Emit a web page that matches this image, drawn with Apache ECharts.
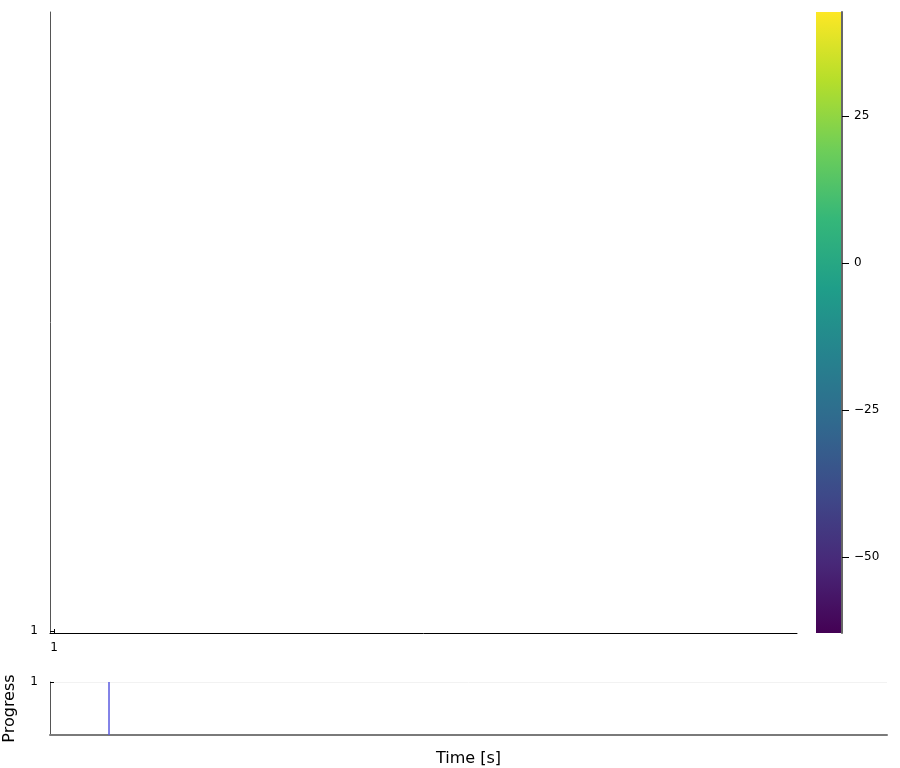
<!DOCTYPE html>
<html><head><meta charset="utf-8">
<script src="https://cdn.jsdelivr.net/npm/echarts@6/dist/echarts.min.js"></script>
<style>html,body{margin:0;padding:0;background:#fff}#c{width:900px;height:768px}</style>
</head><body><div id="c"></div>
<script>
// Data
const heatmapCells = [];            // spectrogram cells: empty in the reference
const xTicks = [1];
const yTicks = [1];
const colorTicks = [25, 0, -25, -50];
const colorMin = -62.9, colorMax = 42.7;
const progressTime = [0.0705, 0.0705];
const progressValue = [0, 1];
const progressTicks = [1];
const viridis = ['#440154','#482878','#3e4989','#31688e','#26828e','#1f9e89','#35b779','#6ece58','#b5de2b','#fde725'];

const chart = echarts.init(document.getElementById('c'));
const font = 'DejaVu Sans';
const minus = v => String(v).replace('-', '\u2212');
const gradStops = viridis.map((c, i) => ({offset: 1 - i/(viridis.length-1), color: c}));

chart.setOption({
  animation: false,
  textStyle: {fontFamily: font},
  grid: [
    {left: 50, top: 12, width: 747, height: 621, outerBoundsMode: 'none', containLabel: false},
    {left: 816, top: 12, width: 26, height: 621, show: true, borderWidth: 0, outerBoundsMode: 'none', containLabel: false,
     backgroundColor: new echarts.graphic.LinearGradient(0, 0, 0, 1, gradStops)},
    {left: 50, top: 682, width: 837, height: 53, outerBoundsMode: 'none', containLabel: false}
  ],
  xAxis: [
    {gridIndex: 0, type: 'value', min: 0, max: 187,
     axisLine: {onZero: false, lineStyle: {color: '#000', width: 1}},
     axisTick: {inside: true, length: 4, customValues: xTicks, lineStyle: {color: '#000'}},
     axisLabel: {customValues: xTicks, fontSize: 12, color: '#000', margin: 9},
     splitLine: {show: false}},
    {gridIndex: 1, type: 'value', show: false, min: 0, max: 1},
    {gridIndex: 2, type: 'value', min: 0, max: 1,
     name: 'Time [s]', nameLocation: 'middle', nameGap: 16,
     nameTextStyle: {fontSize: 16, color: '#000', fontFamily: font},
     axisLine: {onZero: false, lineStyle: {color: '#7a7a7a', width: 2}},
     axisTick: {show: false}, axisLabel: {show: false}, splitLine: {show: false}}
  ],
  yAxis: [
    {gridIndex: 0, type: 'value', min: 0, max: 310.5,
     axisLine: {show: true, onZero: false, lineStyle: {color: '#555', width: 1}},
     axisTick: {show: true, inside: true, length: 4, customValues: yTicks, lineStyle: {color: '#000'}},
     axisLabel: {customValues: yTicks, fontSize: 12, color: '#000', margin: 12, padding: [2, 0, 0, 0]},
     splitLine: {show: false}},
    {gridIndex: 1, type: 'value', position: 'right', min: colorMin, max: colorMax,
     axisLine: {show: true, onZero: false, lineStyle: {color: '#666', width: 2}},
     axisTick: {show: true, length: 7, customValues: colorTicks, lineStyle: {color: '#000'}},
     axisLabel: {customValues: colorTicks, fontSize: 12, color: '#000', margin: 12, padding: [2, 0, 0, 0], formatter: minus},
     splitLine: {show: false}},
    {gridIndex: 2, type: 'value', min: 0, max: 1,
     name: 'Progress', nameLocation: 'middle', nameGap: 32, nameRotate: 90,
     nameTextStyle: {fontSize: 16, color: '#000', fontFamily: font},
     axisLine: {show: true, onZero: false, lineStyle: {color: '#555', width: 1}},
     axisTick: {show: true, inside: true, length: 4, customValues: progressTicks, lineStyle: {color: '#000'}},
     axisLabel: {customValues: progressTicks, fontSize: 12, color: '#000', margin: 12, padding: [2, 0, 0, 0]},
     splitLine: {show: true, lineStyle: {color: '#f2f2f2'}}}
  ],
  series: [
    {type: 'scatter', xAxisIndex: 0, yAxisIndex: 0, data: heatmapCells, symbolSize: 0},
    {type: 'line', xAxisIndex: 2, yAxisIndex: 2, showSymbol: false,
     data: progressTime.map((t, i) => [t, progressValue[i]]),
     lineStyle: {color: '#5a5ae0', width: 1.5}}
  ]
});
</script></body></html>
